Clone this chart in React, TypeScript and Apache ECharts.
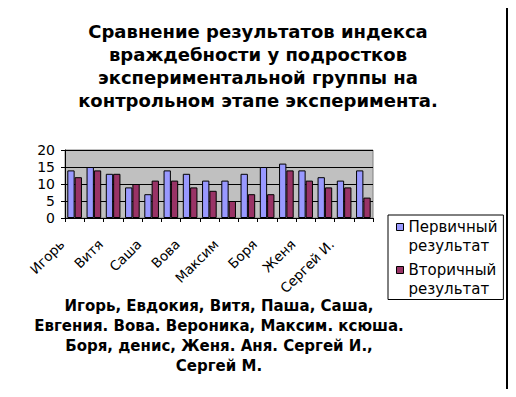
import React, { useEffect, useRef } from "react";
import * as echarts from "echarts";

const categories = [
  "Игорь", "Евдокия", "Витя", "Паша", "Саша", "Евгения", "Вова", "Вероника",
  "Максим", "Ксюша", "Боря", "Денис", "Женя", "Аня", "Сергей И.", "Сергей М.",
];
const primary = [14, 15, 13, 9, 7, 14, 13, 11, 11, 13, 15, 16, 14, 12, 11, 14];
const secondary = [12, 14, 13, 10, 11, 11, 9, 8, 5, 7, 7, 14, 11, 9, 9, 6];
const seriesNames = ["Первичный\nрезультат", "Вторичный\nрезультат"];
const yTicks = { min: 0, max: 20, interval: 5 };
const titleText =
  "Сравнение результатов индекса\nвраждебности у подростков\nэкспериментальной группы на\nконтрольном этапе эксперимента.";
const captionText =
  "Игорь, Евдокия, Витя, Паша, Саша,\nЕвгения. Вова. Вероника, Максим. ксюша.\nБоря, денис, Женя. Аня. Сергей И.,\nСергей М.";

const FONT = "'DejaVu Sans', Arial, sans-serif";
const LEGEND_ICON = "path://M0,0L7,0L7,7L0,7Z M0,26L0,26";

export default function App() {
  const ref = useRef<HTMLDivElement>(null);
  useEffect(() => {
    if (!ref.current) return;
    const chart = echarts.init(ref.current, undefined, { renderer: "svg" });
    chart.setOption({
      animation: false,
      backgroundColor: "#ffffff",
      title: [
        {
          text: titleText,
          left: "center",
          top: 20,
          padding: 0,
          textStyle: {
            fontFamily: FONT,
            fontSize: 18,
            fontWeight: "bold",
            lineHeight: 23,
            color: "#000",
          },
        },
        {
          text: captionText,
          left: 219,
          top: 296,
          textAlign: "center",
          padding: 0,
          textStyle: {
            fontFamily: FONT,
            fontSize: 15,
            fontWeight: "bold",
            lineHeight: 20,
            color: "#000",
          },
        },
      ],
      legend: {
        orient: "vertical",
        left: 388,
        top: 215,
        padding: [2.5, 6, 1, 8],
        borderColor: "#000",
        borderWidth: 1,
        itemGap: 5,
        itemWidth: 7,
        itemHeight: 26,
        icon: LEGEND_ICON,
        itemStyle: { borderColor: "#000", borderWidth: 1 },
        textStyle: {
          fontFamily: FONT,
          fontSize: 15,
          lineHeight: 19,
          color: "#000",
        },
        data: seriesNames,
      },
      grid: {
        left: 65,
        right: 143,
        top: 150,
        bottom: 179,
        show: true,
        backgroundColor: "#C0C0C0",
        borderColor: "#808080",
        borderWidth: 1,
      },
      xAxis: {
        type: "category",
        data: categories,
        boundaryGap: true,
        axisLine: { lineStyle: { color: "#000", width: 1 } },
        axisTick: { show: true, length: 4, interval: 0, lineStyle: { color: "#000" } },
        axisLabel: {
          interval: 1,
          rotate: 45,
          margin: 11,
          fontFamily: FONT,
          fontSize: 13.5,
          color: "#000",
          padding: [0, 18, 0, 0],
        },
      },
      yAxis: {
        type: "value",
        min: yTicks.min,
        max: yTicks.max,
        interval: yTicks.interval,
        axisLine: { show: true, lineStyle: { color: "#000", width: 1 } },
        axisTick: { show: true, length: 4, lineStyle: { color: "#000" } },
        axisLabel: {
          fontFamily: FONT,
          fontSize: 14,
          color: "#000",
          margin: 10,
        },
        splitLine: { show: true, lineStyle: { color: "#000", width: 1 } },
      },
      series: [
        {
          name: seriesNames[0],
          type: "bar",
          data: primary,
          barGap: "0%",
          barCategoryGap: "24%",
          itemStyle: { color: "#9999FF", borderColor: "#000", borderWidth: 1 },
        },
        {
          name: seriesNames[1],
          type: "bar",
          data: secondary,
          barGap: "0%",
          barCategoryGap: "24%",
          itemStyle: { color: "#993366", borderColor: "#000", borderWidth: 1 },
        },
      ],
    });
    return () => chart.dispose();
  }, []);
  return (
    <div style={{ position: "relative", width: 516, height: 397, margin: -8 }}>
      <div ref={ref} style={{ width: 516, height: 397 }} />
      <div
        style={{
          position: "absolute",
          left: 6,
          top: 5,
          width: 502,
          height: 387,
          boxSizing: "border-box",
          border: "2px solid #000",
          pointerEvents: "none",
        }}
      />
    </div>
  );
}
